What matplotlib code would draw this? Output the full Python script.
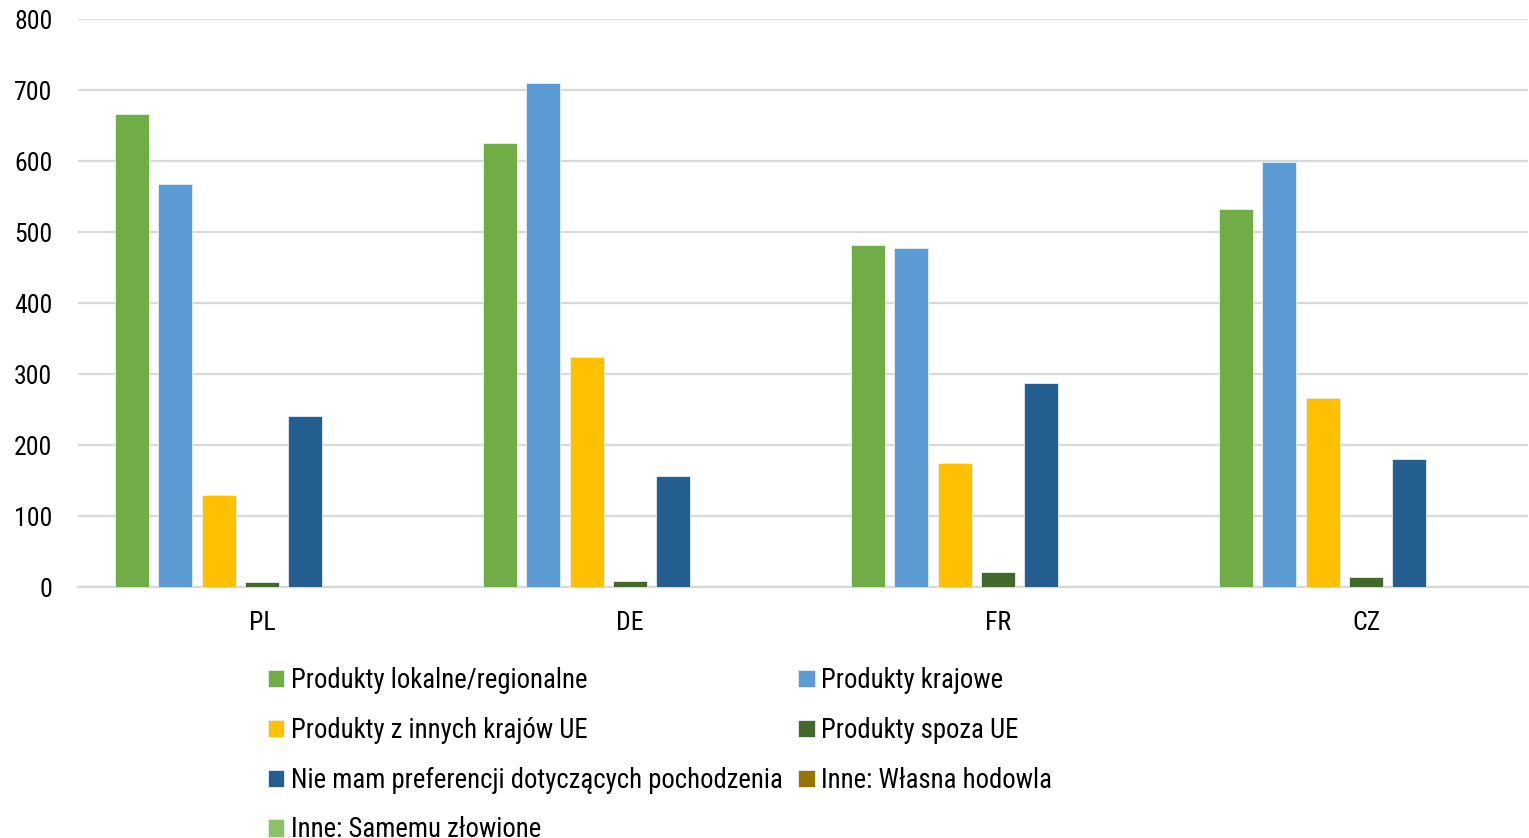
import matplotlib
matplotlib.use("Agg")
import matplotlib.pyplot as plt
import numpy as np

plt.rcParams['font.family'] = ['Roboto Condensed', 'Archivo Narrow', 'Liberation Sans', 'DejaVu Sans']

categories = ["PL", "DE", "FR", "CZ"]
series_names = [
    "Produkty lokalne/regionalne",
    "Produkty krajowe",
    "Produkty z innych krajów UE",
    "Produkty spoza UE",
    "Nie mam preferencji dotyczących pochodzenia",
    "Inne: Własna hodowla",
    "Inne: Samemu złowione",
]
local_regional = [666, 625, 482, 532]
national = [568, 710, 477, 599]
other_eu = [130, 324, 175, 266]
non_eu = [7, 8, 21, 14]
no_pref = [241, 156, 287, 180]
own_breeding = [0, 0, 0, 0]
self_caught = [0, 0, 0, 0]
values = [local_regional, national, other_eu, non_eu, no_pref, own_breeding, self_caught]
colors = ["#70AD47", "#5B9BD5", "#FFC000", "#43682B", "#255E91", "#997300", "#8CC168"]
yticks = [0, 100, 200, 300, 400, 500, 600, 700, 800]

W, H = 1529, 838
fig = plt.figure(figsize=(W / 100, H / 100), dpi=100)
ax = fig.add_axes([78 / W, 1 - 587 / H, (1528 - 78) / W, (587 - 19) / H])

x = np.arange(len(categories))
stride = 0.1177
bw = 0.0924
handles = []
for i, (vals, c) in enumerate(zip(values, colors)):
    h = ax.bar(x + (i - 3) * stride, vals, width=bw, color=c, edgecolor="#E8EEF4",
               linewidth=0.6, label=series_names[i], zorder=3)
    handles.append(h)

ax.set_ylim(0, 800)
ax.set_xlim(-0.5, (1528 - 262) / 368)
ax.set_yticks(yticks)
ax.set_yticklabels([str(t) for t in yticks])
ax.set_xticks(x)
ax.set_xticklabels(categories)
ax.tick_params(axis="both", length=0, labelsize=18.5, colors="black")
ax.tick_params(axis="y", pad=18.5)
ax.tick_params(axis="x", pad=17)
ax.yaxis.grid(True, color="#D9D9D9", linewidth=1.6, zorder=0)
for s in ["top", "right", "left"]:
    ax.spines[s].set_visible(False)
ax.spines["bottom"].set_color("#D9D9D9")
ax.spines["bottom"].set_linewidth(1.6)

order = [0, 2, 4, 6, 1, 3, 5]
leg = fig.legend([handles[i] for i in order], [series_names[i] for i in order],
                 ncol=2, loc="upper left", bbox_to_anchor=(268 / W, 1 - 667 / H),
                 frameon=False, fontsize=19.3, handlelength=0.61, handleheight=0.61,
                 handletextpad=0.23, columnspacing=0.6, labelspacing=0.85,
                 borderaxespad=0, borderpad=0)

fig.savefig("out.png", dpi=100)
